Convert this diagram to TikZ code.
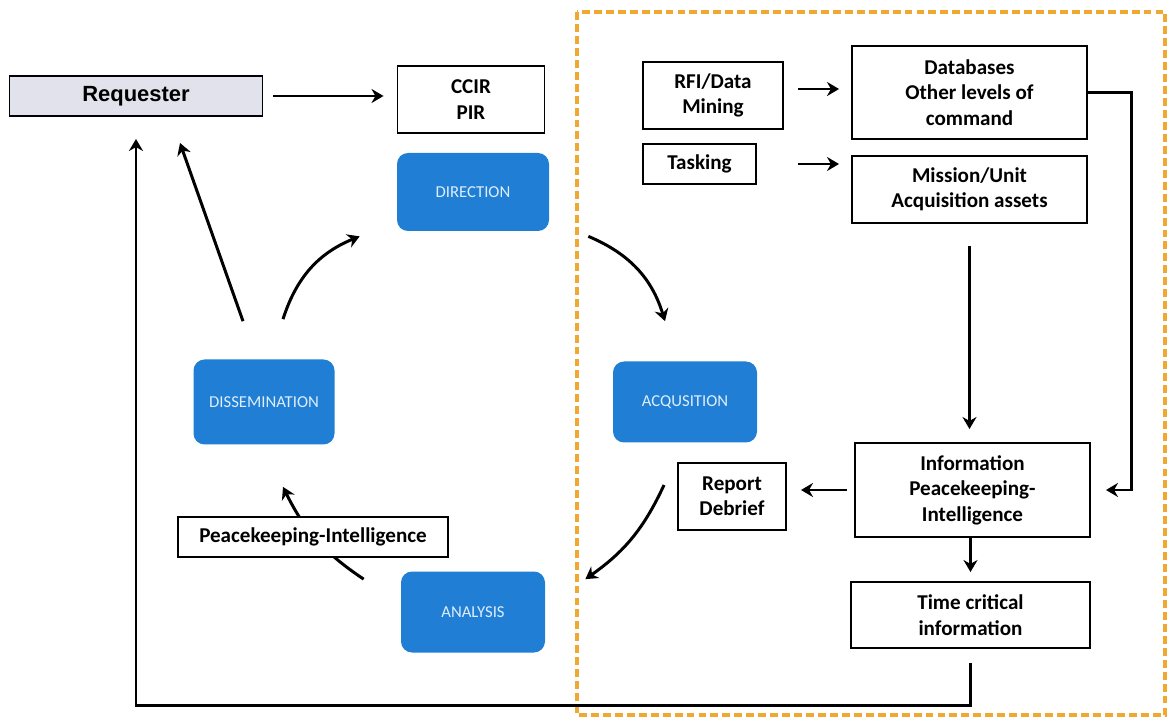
\documentclass[tikz,border=0pt]{standalone}
\usepackage{fontspec}
\setmainfont{Carlito}
\newfontfamily\reqfont{Liberation Sans}
\usetikzlibrary{arrows.meta}

\definecolor{cycleblue}{RGB}{32,126,212}
\definecolor{cycletext}{RGB}{222,238,252}
\definecolor{reqfill}{RGB}{226,226,236}
\definecolor{frameorange}{RGB}{240,168,48}

\tikzset{
  infobox/.style={draw=black, line width=1.1pt, fill=white, align=center,
    font=\fontsize{12}{14.5}\selectfont\bfseries, inner sep=2pt},
  phasebox/.style={fill=cycleblue, rounded corners=0.22cm, align=center,
    text=cycletext, font=\fontsize{9.5}{11}\selectfont},
  flow/.style={line width=1.7pt, -{Stealth[length=2.4mm,width=2.8mm]}}
}

\begin{document}
\begin{tikzpicture}
    \useasboundingbox (0,0) rectangle (23.34,-14.38);

    % Draw the dashed frame around the acquisition side
    \draw[frameorange, line width=1.8pt, dash pattern=on 4.5pt off 2.3pt]
        (11.54,-0.24) rectangle (23.3,-14.3);

    % Draw the requester and the requirements
    \node[infobox, fill=reqfill, minimum width=5.06cm, minimum height=0.8cm,
          font=\reqfont\fontsize{12.5}{15}\selectfont\bfseries] (req) at (2.72,-1.92) {Requester};
    \node[infobox, minimum width=2.94cm, minimum height=1.34cm] (ccir) at (9.42,-1.99) {CCIR\\PIR};

    % Draw the four phases of the cycle
    \node[phasebox, minimum width=3.04cm, minimum height=1.56cm] (dir) at (9.46,-3.84) {DIRECTION};
    \node[phasebox, minimum width=2.82cm, minimum height=1.7cm] (dis) at (5.28,-8.04) {DISSEMINATION};
    \node[phasebox, minimum width=2.88cm, minimum height=1.62cm] (acq) at (13.7,-8.04) {ACQUSITION};
    \node[phasebox, minimum width=2.88cm, minimum height=1.62cm] (ana) at (9.46,-12.24) {ANALYSIS};

    % Draw the acquisition boxes
    \node[infobox, minimum width=2.8cm, minimum height=1.34cm] (rfi) at (14.26,-1.91) {RFI/Data\\Mining};
    \node[infobox, minimum width=2.26cm, minimum height=0.8cm] (task) at (13.99,-3.28) {Tasking};
    \node[infobox, minimum width=4.7cm, minimum height=1.86cm] (db) at (19.39,-1.85) {Databases\\Other levels of\\command};
    \node[infobox, minimum width=4.7cm, minimum height=1.34cm] (mis) at (19.39,-3.79) {Mission/Unit\\Acquisition assets};
    \node[infobox, minimum width=4.7cm, minimum height=1.88cm] (info) at (19.45,-9.8) {Information\\Peacekeeping-\\Intelligence};
    \node[infobox, minimum width=2.16cm, minimum height=1.34cm] (rep) at (14.64,-9.93) {Report\\Debrief};
    \node[infobox, minimum width=4.78cm, minimum height=1.32cm] (time) at (19.41,-12.3) {Time critical\\information};

    % Draw the arrows of the cycle
    \draw[flow, shorten <=0.2cm, shorten >=0.26cm] (req.east) -- (ccir.west |- req.east);
    \draw[flow] ([xshift=0.38cm,yshift=0.8cm]dis.north) to[bend left=25]
        ([xshift=-0.74cm,yshift=-0.1cm]dir.south west);
    \draw[flow] ([xshift=-0.42cm,yshift=0.76cm]dis.north) -- ([xshift=0.88cm,yshift=-0.52cm]req.south);
    \draw[flow] ([xshift=0.78cm,yshift=-0.1cm]dir.south east) to[bend left=25]
        ([xshift=-0.4cm,yshift=0.8cm]acq.north);
    \draw[flow] ([xshift=-0.26cm,yshift=0.23cm]rep.west) to[bend left=15]
        ([xshift=0.8cm,yshift=-0.16cm]ana.north east);
    \draw[flow] ([xshift=-0.74cm,yshift=-0.16cm]ana.north west) to[bend left=15]
        ([xshift=0.38cm,yshift=-0.84cm]dis.south);

    % Draw the label box over its arrow
    \node[infobox, minimum width=5.4cm, minimum height=0.8cm] (pki) at (6.26,-10.74) {Peacekeeping-Intelligence};

    % Draw the arrows of the acquisition side
    \draw[flow, shorten <=0.28cm, shorten >=0.24cm] (rfi.east |- 0,-1.78) -- (db.west |- 0,-1.78);
    \draw[flow, shorten <=0.82cm, shorten >=0.24cm] (task.east) -- (mis.west |- task.east);
    \draw[flow, shorten >=0.3cm] (db.east) -- ++(0.88,0) |- (info.east);
    \draw[flow, shorten <=0.44cm, shorten >=0.26cm] (mis.south) -- (mis.south |- info.north);
    \draw[flow, shorten <=0.14cm, shorten >=0.28cm] (info.west) -- (rep.east |- info.west);
    \draw[flow, shorten >=0.18cm] (info.south -| time.north) -- (time.north);
    \draw[flow, shorten >=0.44cm] ([yshift=-0.28cm]time.south) -- ([yshift=-1.14cm]time.south) -| (req.south);
\end{tikzpicture}
\end{document}
